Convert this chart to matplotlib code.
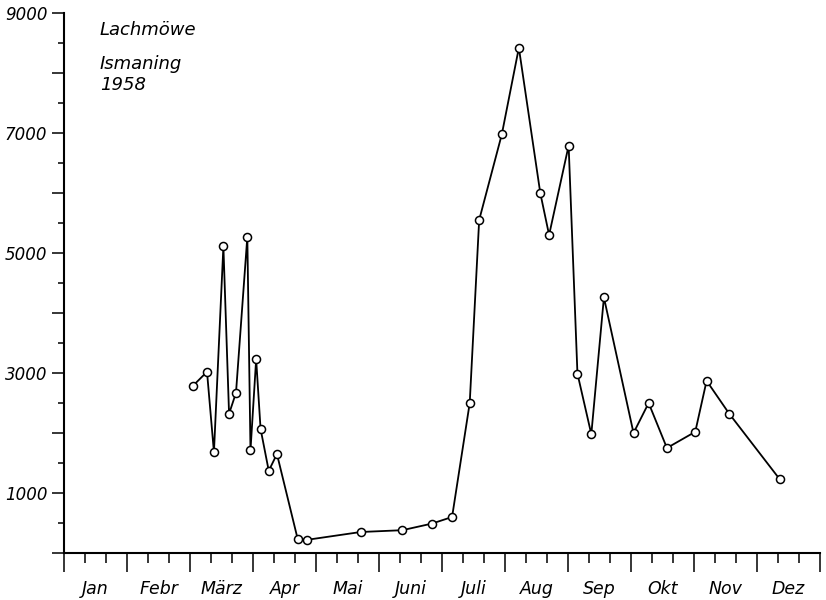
import matplotlib
matplotlib.use("Agg")
import matplotlib.pyplot as plt
from matplotlib.ticker import FixedLocator, FixedFormatter

# Lage im Jahr in Monaten (0 = Anfang Januar, 12 = Ende Dezember)
monat = [2.05, 2.27, 2.38, 2.53, 2.62, 2.73, 2.91, 2.96, 3.05, 3.12, 3.25, 3.38,
         3.71, 3.86, 4.71, 5.37, 5.84, 6.16, 6.44, 6.59, 6.95, 7.22, 7.56, 7.70,
         8.01, 8.15, 8.37, 8.57, 9.04, 9.28, 9.57, 10.02, 10.20, 10.56, 11.36]
# gezählte Lachmöwen
anzahl = [2790, 3020, 1680, 5110, 2320, 2670, 5270, 1710, 3230, 2070, 1370, 1650,
          230, 220, 350, 380, 490, 600, 2500, 5550, 6980, 8420, 6000, 5300,
          6790, 2990, 1980, 4260, 2000, 2500, 1750, 2020, 2870, 2320, 1230]

monate = ["Jan", "Febr", "März", "Apr", "Mai", "Juni",
          "Juli", "Aug", "Sep", "Okt", "Nov", "Dez"]

plt.rcParams["font.family"] = "DejaVu Sans"
plt.rcParams["font.style"] = "italic"

fig = plt.figure(figsize=(8.26, 6.0), dpi=100)
ax = fig.add_axes([64 / 826, 47 / 600, (820 - 64) / 826, (553 - 13) / 600])

ax.plot(monat, anzahl, color="black", lw=1.3, marker="o", ms=5.8,
        mfc="white", mec="black", mew=1.1, clip_on=False, zorder=3)

ax.set_xlim(0, 12)
ax.set_ylim(0, 9000)

for s in ["top", "right"]:
    ax.spines[s].set_visible(False)
for s in ["left", "bottom"]:
    ax.spines[s].set_linewidth(1.5)

# y-Achse: lange Striche alle 1000, kurze dazwischen, nur ungerade Tausender beschriftet
ax.yaxis.set_major_locator(FixedLocator(range(0, 9001, 1000)))
ax.yaxis.set_major_formatter(FixedFormatter(
    [str(v) if (v // 1000) % 2 == 1 else "" for v in range(0, 9001, 1000)]))
ax.yaxis.set_minor_locator(FixedLocator(range(500, 9000, 1000)))
ax.tick_params(axis="y", which="major", direction="out", length=9, width=1.1,
               labelsize=12, pad=3)
ax.tick_params(axis="y", which="minor", direction="out", length=4.5, width=1.1)

# x-Achse: Monatsgrenzen lang, Monatsdrittel kurz
ax.xaxis.set_major_locator(FixedLocator(range(13)))
ax.xaxis.set_major_formatter(FixedFormatter([""] * 13))
ax.xaxis.set_minor_locator(FixedLocator(
    [m + k / 3 for m in range(12) for k in (1, 2)]))
ax.tick_params(axis="x", which="major", direction="out", length=14, width=1.1)
ax.tick_params(axis="x", which="minor", direction="out", length=7, width=1.1)

for i, name in enumerate(monate):
    ax.text(i + 0.5, -600, name, ha="center", va="center", fontsize=12.5,
            clip_on=False)

ax.text(0.57, 8720, "Lachmöwe", fontsize=13, va="center")
ax.text(0.57, 8300, "Ismaning\n1958", fontsize=13, va="top", linespacing=1.2)

fig.savefig("out.png", dpi=100)
